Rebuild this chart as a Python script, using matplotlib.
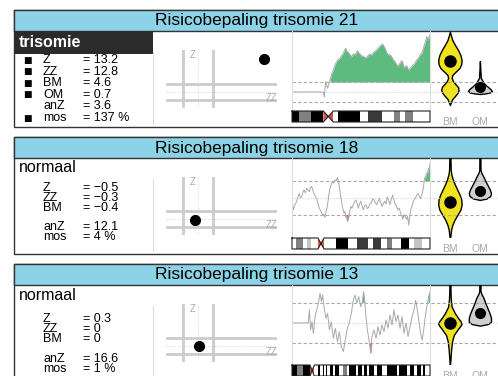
import numpy as np
import matplotlib
matplotlib.use('Agg')
import matplotlib.pyplot as plt
from matplotlib.patches import Rectangle

W, H = 498, 376
plt.rcParams['font.family'] = ['Liberation Sans', 'DejaVu Sans']

# ---- panel texts / summary values ----
titles = ['Risicobepaling trisomie 21', 'Risicobepaling trisomie 18', 'Risicobepaling trisomie 13']
verdicts = ['trisomie', 'normaal', 'normaal']
z_vals = [13.2, -0.5, 0.3]
zz_vals = [12.8, -0.3, 0]
bm_vals = [4.6, -0.4, 0]
om_vals = [0.7, 0.65, 0.73]
anz_vals = [3.6, 12.1, 16.6]
mos_vals = [137, 4, 1]
om_shown = [True, False, False]
flagged = [[True, True, True, True, False, True], [False] * 6, [False] * 6]
row_labels = ['Z', 'ZZ', 'BM', 'OM', 'anZ', 'mos']

# ---- chromosome traces: (position % of chromosome, score) ----
chr21_trace = [(0, 0), (10, 0), (22.7, 0), (23.4, -0.75), (24.4, 1.55), (25.8, 0.55), (27.5, 1.8),
               (28.8, 2.7), (30.0, 3.3), (31.2, 4.1), (32.4, 4.55), (33.6, 4.9), (34.8, 5.05),
               (36.0, 5.5), (37.2, 5.8), (38.1, 6.3), (38.9, 6.55), (39.8, 6.1), (40.8, 5.9),
               (42.0, 5.6), (43.2, 5.3), (44.5, 5.7), (45.7, 5.55), (46.6, 5.9), (47.6, 6.2),
               (48.5, 5.8), (49.3, 5.7), (50.5, 5.35), (51.7, 5.4), (52.9, 5.1), (54.1, 5.2),
               (55.3, 5.5), (56.5, 5.7), (57.7, 5.5), (58.9, 5.9), (60.1, 6.1), (61.4, 6.3),
               (62.6, 6.6), (63.8, 6.9), (64.7, 7.0), (65.5, 7.2), (66.4, 6.9), (67.4, 6.55),
               (68.6, 5.9), (69.8, 5.55), (71.0, 5.6), (72.2, 5.3), (73.4, 4.8), (74.6, 4.55),
               (75.6, 4.2), (76.6, 3.8), (77.4, 4.1), (78.3, 4.3), (79.1, 4.6), (79.9, 4.7),
               (80.6, 4.0), (81.4, 3.55), (82.2, 3.9), (83.1, 3.9), (84.0, 3.5), (84.8, 3.2),
               (85.7, 3.6), (86.7, 3.8), (87.9, 4.1), (89.1, 4.3), (90.3, 4.8), (91.5, 5.05),
               (92.7, 5.5), (94.0, 5.8), (95.0, 6.4), (95.9, 7.05), (96.8, 7.6), (97.6, 8.3),
               (98.2, 8.0), (98.8, 7.8), (99.4, 8.4), (100, 8.55)]
chr18_trace = [(0, -0.18), (1.0, -1.05), (2.2, -0.6), (3.4, -0.3), (4.3, 0.1), (5.3, 0.4), (6.1, 0.0),
               (7.0, 0.1), (7.9, 0.5), (8.7, 0.7), (9.6, 0.45), (10.6, 0.85), (11.6, 0.7), (12.6, 0.55),
               (13.4, 0.9), (14.3, 1.0), (15.1, 0.7), (15.9, 0.4), (16.9, 0.15), (17.9, -0.05),
               (18.8, -0.5), (19.8, -0.9), (21.0, -1.2), (22.2, -1.5), (23.0, -1.45), (23.9, -1.7),
               (24.7, -1.2), (25.6, -0.75), (26.5, 0.1), (27.5, 0.85), (28.5, 1.2), (29.5, 1.45),
               (30.3, 1.3), (31.2, 1.6), (32.0, 1.5), (32.9, 1.8), (33.6, 1.5), (34.3, 1.0),
               (35.1, 0.3), (36.0, -0.45), (36.8, -0.9), (37.7, -1.35), (38.4, -1.2), (39.1, -1.7),
               (39.6, -1.6), (40.1, -2.1), (40.6, -2.0), (41.1, -1.8), (41.8, -1.2), (42.5, -0.75),
               (43.4, -0.9), (44.4, -0.6), (45.4, -0.3), (46.4, -0.18), (47.2, -0.5), (48.1, -0.9),
               (49.0, -0.5), (49.8, -0.3), (50.7, -0.7), (51.7, -1.05), (52.6, -0.7), (53.6, -0.6),
               (54.6, -0.95), (55.6, -0.8), (56.5, -0.5), (57.5, -0.45), (58.4, -0.1), (59.4, -0.18),
               (60.4, -0.45), (61.4, -0.6), (62.3, -0.3), (63.3, -0.05), (64.2, -0.4), (65.2, -0.75),
               (66.1, -0.5), (67.1, -0.3), (68.1, -0.55), (69.1, 0.1), (70.0, -0.2), (71.0, -0.6),
               (72.0, -0.1), (72.9, 0.25), (73.9, -0.2), (74.9, -0.6), (75.8, -0.75), (76.8, -1.05),
               (77.7, -0.9), (78.7, -1.35), (79.4, -1.5), (80.2, -1.85), (80.9, -1.7), (81.6, -1.5),
               (82.4, -1.7), (83.1, -1.9), (83.8, -1.6), (84.5, -2.4), (85.2, -1.8), (86.0, -1.05),
               (87.0, -0.7), (87.9, -0.3), (88.9, -0.1), (89.9, 0.1), (90.7, 0.3), (91.5, 0.4),
               (92.3, 0.1), (93.2, -0.05), (94.0, 0.3), (94.7, 0.55), (95.4, 1.1), (96.1, 1.75),
               (96.9, 1.9), (97.6, 2.2), (98.2, 2.05), (98.8, 2.6), (99.4, 2.5), (100, 3.05)]
chr13_trace = [(0, 0), (11.8, 0), (12.6, 0.98), (13.5, -0.52), (14.5, 0.1), (15.5, -0.78), (16.7, 0.48),
               (17.9, 0.98), (19.1, 1.48), (20.3, 2.22), (21.3, 1.6), (22.2, 2.1), (23.2, 1.22),
               (24.6, 0.35), (25.8, 0.72), (27.1, -0.52), (28.5, 0.1), (30.0, -1.15), (31.4, -0.4),
               (32.9, -1.4), (34.3, -0.65), (35.7, -1.78), (37.2, -2.15), (38.6, -1.28), (40.1, -0.4),
               (41.5, 0), (43.0, 0.72), (44.4, 1.72), (45.7, 2.1), (46.9, 1.48), (48.3, 1.98),
               (49.8, 1.22), (51.0, 1.6), (51.9, 2.35), (52.7, 1.72), (53.6, 0.48), (54.6, -0.52),
               (55.8, -1.28), (57.0, -2.28), (57.9, -1.02), (59.4, -0.52), (60.9, -1.15), (62.3, -0.28),
               (63.8, -0.9), (65.2, -0.15), (66.7, -0.65), (68.1, 0.22), (69.6, -0.4), (71.0, 0.6),
               (72.5, -0.15), (73.9, 0.98), (75.4, 0.1), (76.8, 0.6), (78.3, -0.4), (79.7, 0.48),
               (81.2, -0.78), (82.6, 0), (84.1, -1.02), (85.5, -0.28), (87.0, 0.48), (88.4, 0.98),
               (89.6, 1.72), (90.8, 0.98), (92.0, 0.1), (93.2, -0.78), (94.4, -1.28), (95.7, -0.28),
               (96.9, 0.72), (98.1, 1.48), (99.0, 1.98), (100, 2.35)]
traces = [chr21_trace, chr18_trace, chr13_trace]
gain_regions = [[(26, 100)], [(96, 100)], [(51, 52.7), (98.5, 100)]]
loss_regions = [[], [(39, 41.2), (80, 81.7)], [(55.8, 57.9)]]
chart_ylims = [(-2.7, 9.15), (-3.45, 3.52), (-3.08, 2.85)]
threshold = 1.5

# ---- ideogram bands: (start %, end %, stain) ----
chr21_bands = [(0, 5.3, 'gpos100'), (5.3, 13.9, 'gpos50'), (13.9, 22.7, 'gpos100'), (22.7, 29.9, 'acen'),
               (29.9, 33.5, 'gneg'), (33.5, 49.3, 'gpos100'), (49.3, 55.3, 'gneg'), (55.3, 65.0, 'gpos75'),
               (65.0, 74.1, 'gneg'), (74.1, 78.3, 'gpos50'), (78.3, 81.9, 'gneg'), (81.9, 87.9, 'gpos50'),
               (87.9, 100, 'gneg')]
chr18_bands = [(0, 3, 'gneg'), (3, 8.2, 'gpos50'), (8.2, 10.6, 'gneg'), (10.6, 13.5, 'gpos25'),
               (13.5, 18.8, 'gneg'), (18.8, 23.2, 'acen'), (23.2, 31.9, 'gneg'), (31.9, 40.8, 'gpos100'),
               (40.8, 47.3, 'gneg'), (47.3, 55.3, 'gpos75'), (55.3, 59, 'gneg'), (59, 64.3, 'gpos75'),
               (64.3, 68.6, 'gneg'), (68.6, 72.5, 'gpos50'), (72.5, 78.7, 'gneg'), (78.7, 85, 'gpos100'),
               (85, 88.4, 'gneg'), (88.4, 94, 'gpos25'), (94, 100, 'gneg')]
chr13_bands = [(0, 3.4, 'gpos100'), (3.4, 8.2, 'gpos50'), (8.2, 13.0, 'gpos100'), (13.0, 16.2, 'acen'),
               (16.2, 19.1, 'gneg'), (19.1, 20.3, 'gpos100'), (20.3, 22.2, 'gneg'), (22.2, 23.2, 'gpos100'),
               (23.2, 24.6, 'gneg'), (24.6, 25.6, 'gpos100'), (25.6, 27.5, 'gneg'), (27.5, 30.0, 'gpos100'),
               (30.0, 31.4, 'gneg'), (31.4, 34.3, 'gpos100'), (34.3, 37.2, 'gneg'), (37.2, 39.6, 'gpos50'),
               (39.6, 41.5, 'gneg'), (41.5, 46.4, 'gpos100'), (46.4, 48.1, 'gneg'), (48.1, 50.5, 'gpos100'),
               (50.5, 52.2, 'gneg'), (52.2, 54.6, 'gpos100'), (54.6, 56.0, 'gneg'), (56.0, 59.4, 'gpos100'),
               (59.4, 61.4, 'gneg'), (61.4, 65.0, 'gpos100'), (65.0, 68.6, 'gneg'), (68.6, 75.8, 'gpos100'),
               (75.8, 77.8, 'gneg'), (77.8, 83.1, 'gpos100'), (83.1, 85.5, 'gneg'), (85.5, 88.4, 'gpos100'),
               (88.4, 90.3, 'gneg'), (90.3, 93.2, 'gpos100'), (93.2, 94.7, 'gneg'), (94.7, 96.4, 'gpos100'),
               (96.4, 100, 'gneg')]
bands = [chr21_bands, chr18_bands, chr13_bands]
stain_colors = {'gneg': 'white', 'gpos25': '#c4c4c4', 'gpos50': '#808080',
                'gpos75': '#3a3a3a', 'gpos100': 'black', 'acen': '#d9534f'}

# ---- violin profiles (score, half width) ----
bm_prof_y = [[9.05, 8.55, 7.8, 7.05, 6.3, 5.55, 4.8, 4.2, 3.6, 3.0, 2.55, 2.1, 1.65, 1.2, 0.75, 0.3,
              -0.15, -0.6, -1.05, -1.5, -1.95],
             [4.0, 2.45, 2.05, 1.6, 1.15, 0.7, 0.25, -0.18, -0.6, -1.05, -1.5, -1.95, -2.4, -2.8, -3.35, -3.6],
             [4.0, 2.25, 1.72, 1.22, 0.72, 0.38, 0.15, -0.05, -0.22, -0.45, -0.9, -1.4, -2.02, -2.78, -3.15]]
bm_prof_w = [[0, 0.03, 0.08, 0.17, 0.27, 0.35, 0.39, 0.38, 0.32, 0.18, 0.08, 0.06, 0.10, 0.18, 0.27, 0.29,
              0.25, 0.17, 0.08, 0.04, 0],
             [0.015, 0.027, 0.05, 0.1, 0.17, 0.25, 0.33, 0.38, 0.39, 0.35, 0.25, 0.15, 0.08, 0.04, 0.017, 0],
             [0.015, 0.02, 0.033, 0.06, 0.17, 0.27, 0.35, 0.39, 0.35, 0.27, 0.13, 0.07, 0.04, 0.017, 0]]
om_prof_y = [[4.65, 3.3, 2.1, 1.8, 1.35, 0.9, 0.45, 0.15, -0.08, -0.22, -0.3],
             [4.0, 2.45, 2.2, 1.85, 1.5, 1.15, 0.8, 0.45, 0.18, -0.05, -0.18],
             [4.0, 2.4, 2.18, 1.88, 1.5, 1.12, 0.75, 0.38, 0.08, -0.08, -0.2]]
om_prof_w = [[0, 0.015, 0.03, 0.07, 0.13, 0.23, 0.35, 0.4, 0.33, 0.17, 0],
             [0.015, 0.02, 0.05, 0.12, 0.18, 0.25, 0.32, 0.37, 0.35, 0.23, 0],
             [0.015, 0.02, 0.05, 0.12, 0.18, 0.25, 0.32, 0.37, 0.37, 0.27, 0]]


def box(x0, y0, x1, y1):
    # pixel rectangle -> figure fraction
    return [x0 / W, 1 - y1 / H, (x1 - x0) / W, (y1 - y0) / H]


def fmt(v):
    return f'{v:g}'.replace('-', '\u2212')


def in_regions(x, regions):
    mask = np.zeros(len(x), dtype=bool)
    for a, b in regions:
        mask |= (x >= a) & (x <= b)
    return mask


fig = plt.figure(figsize=(W / 100, H / 100), dpi=100)
frame = fig.add_axes([0, 0, 1, 1])
frame.set_xlim(0, W)
frame.set_ylim(H, 0)
frame.axis('off')

row_y0 = [50, 51, 55]
row_step = [11.6, 9.8, 10]

for i in range(3):
    top = 10 + 127 * i
    frame.add_patch(Rectangle((14, top), 486, 117, facecolor='white', edgecolor='#333333', lw=1))
    frame.add_patch(Rectangle((14, top), 486, 21, facecolor='#8dd3e8', edgecolor='#333333', lw=1))
    frame.text(257, top + 11, titles[i], ha='center', va='center', fontsize=12.5)

    if verdicts[i] == 'trisomie':
        frame.add_patch(Rectangle((14, top + 21), 139, 23, facecolor='#2b2b2b', edgecolor='none'))
        frame.text(19, top + 32.5, verdicts[i], color='white', fontweight='bold', fontsize=11.5, va='center')
    else:
        frame.text(19, top + 31, verdicts[i], fontsize=11.5, va='center')

    values = [fmt(z_vals[i]), fmt(zz_vals[i]), fmt(bm_vals[i]), fmt(om_vals[i]),
              fmt(anz_vals[i]), f'{mos_vals[i]} %']
    for j, (lab, val) in enumerate(zip(row_labels, values)):
        if lab == 'OM' and not om_shown[i]:
            continue
        y = top + row_y0[i] + j * row_step[i]
        if flagged[i][j]:
            frame.text(27, y, '\u25a0', fontsize=6.5, ha='center', va='center', family='DejaVu Sans')
        frame.text(43, y, lab, fontsize=9, va='center')
        frame.text(83, y, '= ' + val, fontsize=9, va='center')

    frame.plot([153, 153], [top + 42, top + 114], color='#dddddd', lw=0.8)

    # Z / ZZ scatter
    ad = fig.add_axes(box(166, top + 40, 277, top + 98))
    ad.set_xlim(-6.3, 15.9)
    ad.set_ylim(-6.15, 16.15)
    ad.axis('off')
    for v in (-3, 3):
        ad.axvline(v, color='#cccccc', lw=2)
        ad.axhline(v, color='#cccccc', lw=2)
    ad.axvline(0, color='#cccccc', lw=0.6, ls=':')
    ad.axhline(0, color='#cccccc', lw=0.6, ls=':')
    ad.text(-0.9, 14.4, 'Z', color='#aaaaaa', fontsize=7, ha='center', va='center')
    ad.text(15.9, -2.3, 'ZZ', color='#aaaaaa', fontsize=7, ha='right', va='center')
    ad.plot(z_vals[i], zz_vals[i], 'o', color='black', ms=7, clip_on=False)

    # chromosome trace
    pos, score = np.array(traces[i]).T
    ac = fig.add_axes(box(292, top + 21, 430, top + 100))
    ac.set_facecolor('none')
    ac.set_xlim(0, 100)
    ac.set_ylim(*chart_ylims[i])
    ac.set_xticks([])
    ac.set_yticks([])
    for s in ('top', 'bottom'):
        ac.spines[s].set_visible(False)
    for s in ('left', 'right'):
        ac.spines[s].set_color('#dddddd')
        ac.spines[s].set_linewidth(0.8)
    for t in (threshold, -threshold):
        ac.axhline(t, color='#aaaaaa', lw=0.8, ls=(0, (3, 2)))
    ac.axhline(0, color='#cccccc', lw=0.7, ls=':')
    ac.fill_between(pos, threshold, np.maximum(score, threshold),
                    where=in_regions(pos, gain_regions[i]), color='#5dbb80', lw=0)
    ac.fill_between(pos, -threshold, np.minimum(score, -threshold),
                    where=in_regions(pos, loss_regions[i]), color='#e06666', lw=0)
    ac.plot(pos, score, color='#a8a8a8', lw=0.7)

    # ideogram
    ai = fig.add_axes(box(292, top + 101, 430, top + 112))
    ai.set_xlim(0, 100)
    ai.set_ylim(0, 1)
    ai.axis('off')
    for s, e, stain in bands[i]:
        if stain == 'acen':
            m = (s + e) / 2
            ai.fill([s, s, m], [0, 1, 0.5], color=stain_colors[stain], lw=0)
            ai.fill([e, e, m], [0, 1, 0.5], color=stain_colors[stain], lw=0)
            cs, ce, cm = s, e, m
        else:
            ai.barh(0.5, e - s, left=s, height=1, color=stain_colors[stain], lw=0)
    ai.plot([0, cs, cm, ce, 100, 100, ce, cm, cs, 0, 0], [1, 1, 0.5, 1, 1, 0, 0, 0.5, 0, 0, 1],
            color='#222222', lw=0.8, clip_on=False)

    # violins
    av = fig.add_axes(box(431, top + 21, 500, top + 100))
    av.set_facecolor('none')
    av.set_xlim(0.37, 2.67)
    av.set_ylim(*chart_ylims[i])
    for s in av.spines.values():
        s.set_visible(False)
    av.set_yticks([])
    av.set_xticks([1, 2])
    av.set_xticklabels(['BM', 'OM'])
    av.tick_params(axis='x', length=0, pad=5, labelsize=7.5, labelcolor='#aaaaaa')
    for t in (threshold, -threshold):
        av.axhline(t, color='#aaaaaa', lw=0.8, ls=(0, (3, 2)))
    av.axhline(0, color='#cccccc', lw=0.7, ls=':')
    yb, wb = np.array(bm_prof_y[i]), np.array(bm_prof_w[i])
    av.fill_betweenx(yb, 1 - wb, 1 + wb, facecolor='#f0e31c', edgecolor='black', lw=1)
    yo, wo = np.array(om_prof_y[i]), np.array(om_prof_w[i])
    av.fill_betweenx(yo, 2 - wo, 2 + wo, facecolor='#d0d0d0', edgecolor='black', lw=1)
    av.plot(1, bm_vals[i], 'o', color='black', ms=8)
    av.plot(2, om_vals[i], 'o', color='black', ms=7)

fig.savefig('out.png', dpi=100)
